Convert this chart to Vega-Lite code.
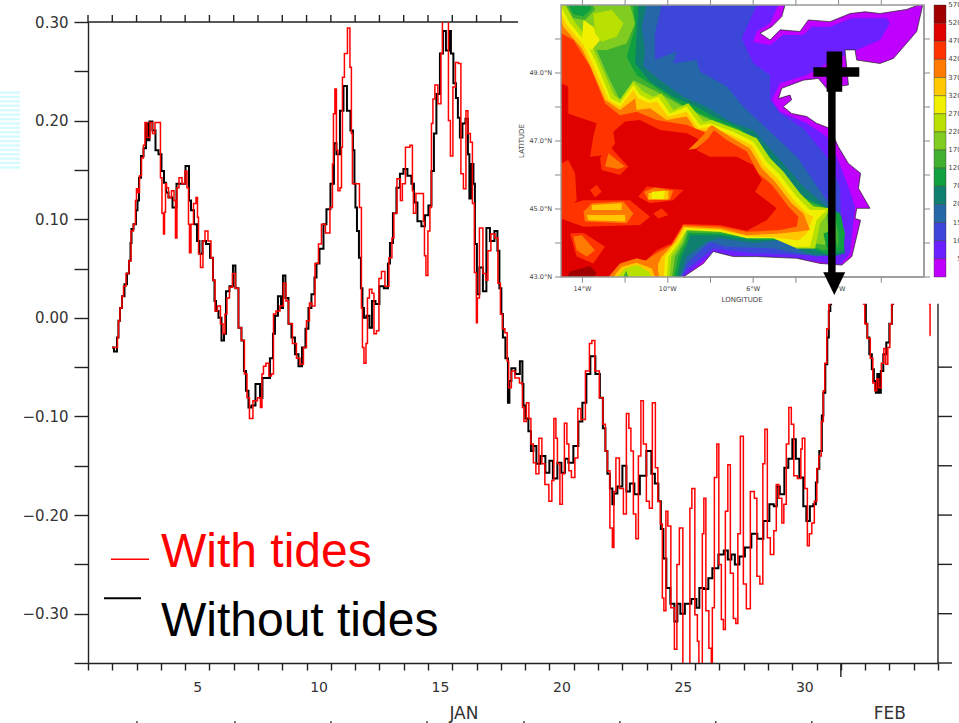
{"$schema":"https://vega.github.io/schema/vega-lite/v6.json","width":850,"height":641,"autosize":{"type":"none"},"padding":{"left":88,"top":22,"right":21,"bottom":60},"background":"white","config":{"view":{"stroke":null}},
"datasets":{
"withoutTides":[{"hour":23.7,"sla":-0.03},{"hour":27.7,"sla":-0.034},{"hour":29.6,"sla":-0.02},{"hour":30.6,"sla":-0.003},{"hour":32.6,"sla":0.01},{"hour":34.6,"sla":0.022},{"hour":37.5,"sla":0.034},{"hour":39.5,"sla":0.045},{"hour":41.5,"sla":0.058},{"hour":42.5,"sla":0.076},{"hour":43.5,"sla":0.09},{"hour":46.4,"sla":0.095},{"hour":48.4,"sla":0.109},{"hour":49.4,"sla":0.119},{"hour":51.4,"sla":0.142},{"hour":53.4,"sla":0.164},{"hour":56.3,"sla":0.172},{"hour":58.3,"sla":0.197},{"hour":59.3,"sla":0.18},{"hour":62.2,"sla":0.199},{"hour":65.2,"sla":0.19},{"hour":68.2,"sla":0.17},{"hour":71.1,"sla":0.166},{"hour":74.1,"sla":0.149},{"hour":76.1,"sla":0.137},{"hour":78.1,"sla":0.127},{"hour":81,"sla":0.122},{"hour":86,"sla":0.112},{"hour":88.9,"sla":0.136},{"hour":93.9,"sla":0.136},{"hour":98.8,"sla":0.154},{"hour":100.8,"sla":0.119},{"hour":102.8,"sla":0.109},{"hour":106.7,"sla":0.095},{"hour":108.7,"sla":0.078},{"hour":111.6,"sla":0.065},{"hour":114.6,"sla":0.078},{"hour":118.6,"sla":0.075},{"hour":122.5,"sla":0.061},{"hour":124.5,"sla":0.038},{"hour":125.5,"sla":0.017},{"hour":127.5,"sla":0.007},{"hour":130.4,"sla":0},{"hour":133.4,"sla":-0.023},{"hour":135.4,"sla":-0.016},{"hour":137.3,"sla":0.027},{"hour":142.3,"sla":0.032},{"hour":144.2,"sla":0.053},{"hour":147.2,"sla":0.03},{"hour":150.2,"sla":-0.01},{"hour":153.1,"sla":-0.023},{"hour":155.1,"sla":-0.054},{"hour":157.1,"sla":-0.074},{"hour":160.1,"sla":-0.091},{"hour":163,"sla":-0.089},{"hour":168,"sla":-0.067},{"hour":171.9,"sla":-0.081},{"hour":172.9,"sla":-0.061},{"hour":177.8,"sla":-0.061},{"hour":181.8,"sla":-0.041},{"hour":183.8,"sla":-0.016},{"hour":185.7,"sla":0.002},{"hour":189.7,"sla":0.022},{"hour":191.7,"sla":0.01},{"hour":193.6,"sla":0.043},{"hour":196.6,"sla":0.02},{"hour":199.6,"sla":-0.006},{"hour":202.5,"sla":-0.02},{"hour":206.5,"sla":-0.037},{"hour":209.5,"sla":-0.049},{"hour":213.4,"sla":-0.03},{"hour":216.4,"sla":-0.011},{"hour":219.3,"sla":0.01},{"hour":222.3,"sla":0.024},{"hour":225.3,"sla":0.041},{"hour":226.3,"sla":0.055},{"hour":231.2,"sla":0.07},{"hour":234.2,"sla":0.095},{"hour":237.1,"sla":0.11},{"hour":242.1,"sla":0.136},{"hour":244,"sla":0.177},{"hour":247,"sla":0.166},{"hour":251,"sla":0.21},{"hour":253.9,"sla":0.235},{"hour":257.9,"sla":0.21},{"hour":260.8,"sla":0.19},{"hour":262.8,"sla":0.17},{"hour":263.8,"sla":0.136},{"hour":264.8,"sla":0.112},{"hour":266.8,"sla":0.088},{"hour":268.7,"sla":0.061},{"hour":270.7,"sla":0.03},{"hour":271.7,"sla":0.01},{"hour":273.7,"sla":0},{"hour":276.6,"sla":0.002},{"hour":279.6,"sla":-0.01},{"hour":281.6,"sla":0.017},{"hour":286.5,"sla":0.014},{"hour":289.5,"sla":0.032},{"hour":295.4,"sla":0.03},{"hour":297.4,"sla":0.055},{"hour":299.4,"sla":0.076},{"hour":303.3,"sla":0.106},{"hour":306.3,"sla":0.132},{"hour":310.2,"sla":0.146},{"hour":313.2,"sla":0.151},{"hour":318.1,"sla":0.144},{"hour":321.1,"sla":0.136},{"hour":323.1,"sla":0.117},{"hour":328,"sla":0.098},{"hour":331,"sla":0.093},{"hour":334.9,"sla":0.104},{"hour":337.9,"sla":0.114},{"hour":340.9,"sla":0.149},{"hour":342.8,"sla":0.187},{"hour":345.8,"sla":0.227},{"hour":349.8,"sla":0.268},{"hour":351.7,"sla":0.291},{"hour":355.7,"sla":0.271},{"hour":357.7,"sla":0.291},{"hour":359.6,"sla":0.268},{"hour":362.6,"sla":0.238},{"hour":364.6,"sla":0.223},{"hour":366.5,"sla":0.203},{"hour":368.5,"sla":0.183},{"hour":371.5,"sla":0.197},{"hour":374.5,"sla":0.202},{"hour":376.4,"sla":0.166},{"hour":377.4,"sla":0.121},{"hour":380.4,"sla":0.156},{"hour":381.4,"sla":0.136},{"hour":383.3,"sla":0.075},{"hour":385.3,"sla":0.024},{"hour":388.3,"sla":0.051},{"hour":392.2,"sla":0.027},{"hour":395.2,"sla":0.091},{"hour":399.2,"sla":0.078},{"hour":404.1,"sla":0.088},{"hour":405.1,"sla":0.068},{"hour":408,"sla":0.03},{"hour":409,"sla":0.004},{"hour":411,"sla":-0.02},{"hour":414,"sla":-0.041},{"hour":416,"sla":-0.086},{"hour":416.9,"sla":-0.064},{"hour":419.9,"sla":-0.051},{"hour":424.8,"sla":-0.057},{"hour":428.8,"sla":-0.044},{"hour":429.8,"sla":-0.067},{"hour":430.8,"sla":-0.089},{"hour":433.7,"sla":-0.102},{"hour":436.7,"sla":-0.115},{"hour":438.7,"sla":-0.135},{"hour":441.6,"sla":-0.13},{"hour":444.6,"sla":-0.148},{"hour":449.5,"sla":-0.14},{"hour":454.5,"sla":-0.157},{"hour":457.4,"sla":-0.145},{"hour":461.4,"sla":-0.163},{"hour":466.3,"sla":-0.147},{"hour":469.3,"sla":-0.157},{"hour":473.3,"sla":-0.143},{"hour":476.2,"sla":-0.147},{"hour":483.1,"sla":-0.13},{"hour":486.1,"sla":-0.105},{"hour":491,"sla":-0.086},{"hour":494,"sla":-0.057},{"hour":498.9,"sla":-0.039},{"hour":503.9,"sla":-0.057},{"hour":507.8,"sla":-0.081},{"hour":509.8,"sla":-0.112},{"hour":512.8,"sla":-0.135},{"hour":513.8,"sla":-0.158},{"hour":517.7,"sla":-0.173},{"hour":518.7,"sla":-0.189},{"hour":520.7,"sla":-0.178},{"hour":525.6,"sla":-0.171},{"hour":530.6,"sla":-0.15},{"hour":533.5,"sla":-0.176},{"hour":537.5,"sla":-0.168},{"hour":542.4,"sla":-0.179},{"hour":548.3,"sla":-0.16},{"hour":555.3,"sla":-0.135},{"hour":558.2,"sla":-0.158},{"hour":562.2,"sla":-0.168},{"hour":565.1,"sla":-0.186},{"hour":567.1,"sla":-0.214},{"hour":570.1,"sla":-0.244},{"hour":573,"sla":-0.274},{"hour":578,"sla":-0.29},{"hour":581,"sla":-0.308},{"hour":583.9,"sla":-0.29},{"hour":586.9,"sla":-0.3},{"hour":592.8,"sla":-0.29},{"hour":599.7,"sla":-0.285},{"hour":602.7,"sla":-0.294},{"hour":605.6,"sla":-0.274},{"hour":611.6,"sla":-0.275},{"hour":614.5,"sla":-0.264},{"hour":619.5,"sla":-0.254},{"hour":626.4,"sla":-0.24},{"hour":630.3,"sla":-0.236},{"hour":634.3,"sla":-0.245},{"hour":637.3,"sla":-0.24},{"hour":641.2,"sla":-0.25},{"hour":646.2,"sla":-0.242},{"hour":652.1,"sla":-0.233},{"hour":659,"sla":-0.219},{"hour":663.9,"sla":-0.224},{"hour":670.9,"sla":-0.206},{"hour":675.8,"sla":-0.189},{"hour":679.7,"sla":-0.191},{"hour":681.7,"sla":-0.171},{"hour":685.7,"sla":-0.179},{"hour":690.6,"sla":-0.152},{"hour":693.6,"sla":-0.143},{"hour":698.5,"sla":-0.123},{"hour":700.5,"sla":-0.143},{"hour":705.4,"sla":-0.162},{"hour":708.4,"sla":-0.191},{"hour":711.4,"sla":-0.206},{"hour":715.3,"sla":-0.191},{"hour":718.3,"sla":-0.189},{"hour":720.3,"sla":-0.167},{"hour":721.2,"sla":-0.153},{"hour":724.2,"sla":-0.135},{"hour":726.2,"sla":-0.099},{"hour":727.2,"sla":-0.076},{"hour":730.1,"sla":-0.047},{"hour":731.1,"sla":-0.02},{"hour":733.1,"sla":0.007},{"hour":734.1,"sla":0.014},{"hour":734.6,"sla":0.05},{"hour":747.9,"sla":0.078},{"hour":760.8,"sla":0.073},{"hour":767.2,"sla":0.05},{"hour":767.7,"sla":0.014},{"hour":769.7,"sla":-0.006},{"hour":770.6,"sla":-0.02},{"hour":773.6,"sla":-0.037},{"hour":775.6,"sla":-0.052},{"hour":777.6,"sla":-0.064},{"hour":779.5,"sla":-0.076},{"hour":780.5,"sla":-0.057},{"hour":782.5,"sla":-0.076},{"hour":784.5,"sla":-0.054},{"hour":787.4,"sla":-0.037},{"hour":790.4,"sla":-0.025},{"hour":793.4,"sla":-0.006},{"hour":795.4,"sla":0.014},{"hour":795.9,"sla":0.05},{"hour":802.3,"sla":0.048},{"hour":812.1,"sla":0.068},{"hour":822,"sla":0.048}],
"withTides":[{"hour":23.7,"sla":-0.03},{"hour":28.7,"sla":-0.03},{"hour":29.6,"sla":-0.02},{"hour":30.6,"sla":-0.003},{"hour":32.6,"sla":0.01},{"hour":34.6,"sla":0.022},{"hour":35.6,"sla":0.032},{"hour":39.5,"sla":0.045},{"hour":41.5,"sla":0.058},{"hour":43.5,"sla":0.088},{"hour":46.4,"sla":0.095},{"hour":47.4,"sla":0.119},{"hour":48.4,"sla":0.131},{"hour":50.4,"sla":0.127},{"hour":51.4,"sla":0.144},{"hour":54.3,"sla":0.162},{"hour":55.3,"sla":0.175},{"hour":57.3,"sla":0.198},{"hour":59.3,"sla":0.183},{"hour":63.2,"sla":0.198},{"hour":64.2,"sla":0.187},{"hour":68.2,"sla":0.198},{"hour":71.1,"sla":0.198},{"hour":72.1,"sla":0.142},{"hour":74.1,"sla":0.106},{"hour":75.1,"sla":0.085},{"hour":76.1,"sla":0.107},{"hour":77.1,"sla":0.136},{"hour":78.1,"sla":0.132},{"hour":81,"sla":0.122},{"hour":84,"sla":0.129},{"hour":86,"sla":0.119},{"hour":86.9,"sla":0.081},{"hour":88.9,"sla":0.132},{"hour":90.9,"sla":0.142},{"hour":94.8,"sla":0.136},{"hour":96.8,"sla":0.149},{"hour":98.8,"sla":0.132},{"hour":99.8,"sla":0.095},{"hour":100.8,"sla":0.066},{"hour":102.8,"sla":0.095},{"hour":105.7,"sla":0.116},{"hour":107.7,"sla":0.122},{"hour":108.7,"sla":0.102},{"hour":109.7,"sla":0.065},{"hour":112.6,"sla":0.051},{"hour":114.6,"sla":0.078},{"hour":116.6,"sla":0.088},{"hour":120.5,"sla":0.078},{"hour":122.5,"sla":0.061},{"hour":124.5,"sla":0.038},{"hour":126.5,"sla":0.007},{"hour":129.4,"sla":0.012},{"hour":132.4,"sla":-0.006},{"hour":134.4,"sla":-0.016},{"hour":136.3,"sla":0.004},{"hour":138.3,"sla":0.02},{"hour":141.3,"sla":0.031},{"hour":144.2,"sla":0.045},{"hour":147.2,"sla":0.03},{"hour":150.2,"sla":-0.01},{"hour":153.1,"sla":-0.023},{"hour":156.1,"sla":-0.057},{"hour":158.1,"sla":-0.081},{"hour":161,"sla":-0.102},{"hour":165,"sla":-0.084},{"hour":169.9,"sla":-0.081},{"hour":170.9,"sla":-0.091},{"hour":172.9,"sla":-0.057},{"hour":173.9,"sla":-0.049},{"hour":177.8,"sla":-0.046},{"hour":179.8,"sla":-0.059},{"hour":182.8,"sla":-0.057},{"hour":183.8,"sla":0.004},{"hour":187.7,"sla":0.007},{"hour":191.7,"sla":0.012},{"hour":194.6,"sla":0.035},{"hour":196.6,"sla":0.017},{"hour":199.6,"sla":-0.006},{"hour":204.5,"sla":-0.026},{"hour":207.5,"sla":-0.041},{"hour":211.4,"sla":-0.047},{"hour":214.4,"sla":-0.03},{"hour":217.4,"sla":-0.003},{"hour":220.3,"sla":0.015},{"hour":222.3,"sla":0.012},{"hour":226.3,"sla":0.055},{"hour":229.2,"sla":0.075},{"hour":232.2,"sla":0.095},{"hour":237.1,"sla":0.086},{"hour":241.1,"sla":0.112},{"hour":242.1,"sla":0.156},{"hour":243,"sla":0.207},{"hour":245,"sla":0.232},{"hour":246,"sla":0.17},{"hour":248,"sla":0.129},{"hour":250,"sla":0.132},{"hour":251,"sla":0.173},{"hour":251.9,"sla":0.244},{"hour":254.9,"sla":0.268},{"hour":257.9,"sla":0.294},{"hour":259.8,"sla":0.254},{"hour":260.8,"sla":0.187},{"hour":261.8,"sla":0.136},{"hour":266.8,"sla":0.136},{"hour":269.7,"sla":0.112},{"hour":270.7,"sla":0.01},{"hour":271.7,"sla":-0.03},{"hour":273.7,"sla":-0.046},{"hour":275.7,"sla":-0.026},{"hour":276.6,"sla":0.02},{"hour":279.6,"sla":0.029},{"hour":281.6,"sla":0.025},{"hour":283.6,"sla":-0.016},{"hour":286.5,"sla":-0.013},{"hour":288.5,"sla":0.04},{"hour":291.5,"sla":0.047},{"hour":295.4,"sla":0.032},{"hour":299.4,"sla":0.061},{"hour":301.3,"sla":0.081},{"hour":303.3,"sla":0.106},{"hour":307.3,"sla":0.141},{"hour":310.2,"sla":0.119},{"hour":311.2,"sla":0.136},{"hour":316.2,"sla":0.173},{"hour":320.1,"sla":0.175},{"hour":321.1,"sla":0.129},{"hour":322.1,"sla":0.106},{"hour":326,"sla":0.126},{"hour":331,"sla":0.126},{"hour":332,"sla":0.098},{"hour":333,"sla":0.063},{"hour":334.9,"sla":0.043},{"hour":336.9,"sla":0.088},{"hour":338.9,"sla":0.112},{"hour":339.9,"sla":0.197},{"hour":341.8,"sla":0.222},{"hour":343.8,"sla":0.236},{"hour":347.8,"sla":0.217},{"hour":349.8,"sla":0.268},{"hour":350.7,"sla":0.307},{"hour":355.7,"sla":0.307},{"hour":356.7,"sla":0.2},{"hour":359.6,"sla":0.164},{"hour":361.6,"sla":0.234},{"hour":364.6,"sla":0.259},{"hour":367.5,"sla":0.258},{"hour":369.5,"sla":0.146},{"hour":372.5,"sla":0.131},{"hour":374.5,"sla":0.21},{"hour":376.4,"sla":0.187},{"hour":379.4,"sla":0.178},{"hour":380.4,"sla":0.116},{"hour":383.3,"sla":0.046},{"hour":384.3,"sla":-0.005},{"hour":385.3,"sla":0.02},{"hour":388.3,"sla":0.091},{"hour":392.2,"sla":0.045},{"hour":394.2,"sla":0.038},{"hour":396.2,"sla":0.068},{"hour":400.1,"sla":0.085},{"hour":404.1,"sla":0.081},{"hour":406.1,"sla":0.035},{"hour":409,"sla":0.004},{"hour":410,"sla":-0.011},{"hour":414,"sla":-0.015},{"hour":414.5,"sla":-0.044},{"hour":416.9,"sla":-0.071},{"hour":419.9,"sla":-0.054},{"hour":423.9,"sla":-0.061},{"hour":428.8,"sla":-0.066},{"hour":429.8,"sla":-0.091},{"hour":431.8,"sla":-0.105},{"hour":434.7,"sla":-0.086},{"hour":436.7,"sla":-0.102},{"hour":438.7,"sla":-0.128},{"hour":441.6,"sla":-0.147},{"hour":443.6,"sla":-0.158},{"hour":447.6,"sla":-0.122},{"hour":449.5,"sla":-0.148},{"hour":453.5,"sla":-0.169},{"hour":457.4,"sla":-0.186},{"hour":459.4,"sla":-0.165},{"hour":461.4,"sla":-0.102},{"hour":463.4,"sla":-0.122},{"hour":464.4,"sla":-0.148},{"hour":468.3,"sla":-0.189},{"hour":469.3,"sla":-0.158},{"hour":472.3,"sla":-0.107},{"hour":474.2,"sla":-0.128},{"hour":476.2,"sla":-0.155},{"hour":479.2,"sla":-0.162},{"hour":483.1,"sla":-0.142},{"hour":485.1,"sla":-0.092},{"hour":489.1,"sla":-0.103},{"hour":494,"sla":-0.054},{"hour":497,"sla":-0.026},{"hour":498.9,"sla":-0.023},{"hour":502.9,"sla":-0.054},{"hour":507.8,"sla":-0.081},{"hour":509.8,"sla":-0.108},{"hour":512.8,"sla":-0.135},{"hour":513.8,"sla":-0.155},{"hour":517.7,"sla":-0.213},{"hour":518.7,"sla":-0.233},{"hour":520.7,"sla":-0.176},{"hour":522.7,"sla":-0.142},{"hour":527.6,"sla":-0.173},{"hour":530.6,"sla":-0.199},{"hour":533.5,"sla":-0.097},{"hour":535.5,"sla":-0.112},{"hour":537.5,"sla":-0.135},{"hour":540.4,"sla":-0.199},{"hour":542.4,"sla":-0.224},{"hour":545.4,"sla":-0.14},{"hour":547.4,"sla":-0.084},{"hour":550.3,"sla":-0.128},{"hour":553.3,"sla":-0.186},{"hour":556.2,"sla":-0.193},{"hour":559.2,"sla":-0.086},{"hour":562.2,"sla":-0.152},{"hour":564.1,"sla":-0.186},{"hour":567.1,"sla":-0.209},{"hour":568.1,"sla":-0.284},{"hour":570.1,"sla":-0.297},{"hour":572.1,"sla":-0.196},{"hour":574,"sla":-0.211},{"hour":578,"sla":-0.294},{"hour":581,"sla":-0.336},{"hour":582.9,"sla":-0.25},{"hour":585.9,"sla":-0.213},{"hour":589.8,"sla":-0.379},{"hour":593.8,"sla":-0.379},{"hour":595.8,"sla":-0.193},{"hour":597.7,"sla":-0.173},{"hour":601.7,"sla":-0.301},{"hour":602.7,"sla":-0.328},{"hour":604.7,"sla":-0.379},{"hour":606.6,"sla":-0.379},{"hour":607.6,"sla":-0.219},{"hour":609.6,"sla":-0.183},{"hour":611.6,"sla":-0.297},{"hour":615.5,"sla":-0.335},{"hour":616.5,"sla":-0.379},{"hour":617.5,"sla":-0.294},{"hour":620.5,"sla":-0.162},{"hour":622.4,"sla":-0.128},{"hour":624.4,"sla":-0.25},{"hour":627.4,"sla":-0.306},{"hour":628.4,"sla":-0.316},{"hour":631.3,"sla":-0.196},{"hour":633.3,"sla":-0.149},{"hour":636.3,"sla":-0.259},{"hour":639.2,"sla":-0.305},{"hour":641.2,"sla":-0.31},{"hour":643.2,"sla":-0.219},{"hour":646.2,"sla":-0.12},{"hour":649.1,"sla":-0.27},{"hour":652.1,"sla":-0.295},{"hour":657,"sla":-0.176},{"hour":660,"sla":-0.183},{"hour":662,"sla":-0.262},{"hour":665.9,"sla":-0.27},{"hour":667.9,"sla":-0.148},{"hour":669.9,"sla":-0.113},{"hour":672.8,"sla":-0.223},{"hour":675.8,"sla":-0.24},{"hour":679.7,"sla":-0.216},{"hour":680.7,"sla":-0.169},{"hour":684.7,"sla":-0.183},{"hour":686.7,"sla":-0.208},{"hour":688.6,"sla":-0.189},{"hour":691.6,"sla":-0.128},{"hour":693.6,"sla":-0.091},{"hour":696.5,"sla":-0.108},{"hour":698.5,"sla":-0.16},{"hour":703.5,"sla":-0.163},{"hour":705.4,"sla":-0.133},{"hour":706.4,"sla":-0.122},{"hour":710.4,"sla":-0.173},{"hour":711.4,"sla":-0.231},{"hour":714.3,"sla":-0.219},{"hour":716.3,"sla":-0.208},{"hour":719.3,"sla":-0.186},{"hour":721.2,"sla":-0.153},{"hour":723.2,"sla":-0.14},{"hour":726.2,"sla":-0.105},{"hour":727.2,"sla":-0.074},{"hour":729.1,"sla":-0.046},{"hour":731.1,"sla":-0.011},{"hour":733.1,"sla":0.014},{"hour":733.6,"sla":0.05},{"hour":747.9,"sla":0.078},{"hour":760.8,"sla":0.078},{"hour":766.2,"sla":0.05},{"hour":766.7,"sla":0.014},{"hour":768.7,"sla":-0.006},{"hour":771.6,"sla":-0.021},{"hour":774.6,"sla":-0.041},{"hour":776.6,"sla":-0.066},{"hour":778.5,"sla":-0.074},{"hour":780.5,"sla":-0.062},{"hour":782.5,"sla":-0.071},{"hour":785.5,"sla":-0.046},{"hour":787.4,"sla":-0.031},{"hour":789.4,"sla":-0.047},{"hour":791.4,"sla":-0.03},{"hour":793.4,"sla":-0.006},{"hour":795.4,"sla":0.014},{"hour":795.9,"sla":0.05},{"hour":807.2,"sla":0.078},{"hour":820,"sla":0.068},{"hour":827.9,"sla":0.05},{"hour":831.5,"sla":0.05},{"hour":831.9,"sla":0.014},{"hour":832.4,"sla":-0.018}]
},
"layer":[{"layer":[{"mark":{"type":"rule","stroke":"#d5fbff","strokeWidth":2.4},"data":{"values":[{"hour":-87,"hour2":-67,"sla":0.2284},{"hour":-87,"hour2":-67,"sla":0.2239},{"hour":-87,"hour2":-67,"sla":0.2195},{"hour":-87,"hour2":-67,"sla":0.215},{"hour":-87,"hour2":-67,"sla":0.2105},{"hour":-87,"hour2":-67,"sla":0.2061},{"hour":-87,"hour2":-67,"sla":0.2016},{"hour":-87,"hour2":-67,"sla":0.1971},{"hour":-87,"hour2":-67,"sla":0.1927},{"hour":-87,"hour2":-67,"sla":0.1882},{"hour":-87,"hour2":-67,"sla":0.1837},{"hour":-87,"hour2":-67,"sla":0.1793},{"hour":-87,"hour2":-67,"sla":0.1748},{"hour":-87,"hour2":-67,"sla":0.1703},{"hour":-87,"hour2":-67,"sla":0.1659},{"hour":-87,"hour2":-67,"sla":0.1614},{"hour":-87,"hour2":-67,"sla":0.157},{"hour":-87,"hour2":-67,"sla":0.1525}]},"encoding":{"x2":{"field":"hour2"}}},
{"mark":{"type":"rule","stroke":"#222","strokeWidth":1.4},"data":{"values":[{"hour":0,"hour2":840,"sla":0.3,"sla2":0.3},{"hour":840,"hour2":840,"sla":-0.35,"sla2":0.3},{"hour":840,"hour2":853.8,"sla":-0.35,"sla2":-0.35},{"hour":840,"hour2":853.8,"sla":-0.3,"sla2":-0.3},{"hour":840,"hour2":853.8,"sla":-0.25,"sla2":-0.25},{"hour":840,"hour2":853.8,"sla":-0.2,"sla2":-0.2},{"hour":840,"hour2":853.8,"sla":-0.15,"sla2":-0.15},{"hour":840,"hour2":853.8,"sla":-0.1,"sla2":-0.1},{"hour":840,"hour2":853.8,"sla":-0.05,"sla2":-0.05},{"hour":744,"hour2":744,"sla":-0.35,"sla2":-0.3642},{"hour":0,"hour2":0,"sla":0.3,"sla2":0.3071},{"hour":24,"hour2":24,"sla":0.3,"sla2":0.3071},{"hour":48,"hour2":48,"sla":0.3,"sla2":0.3071},{"hour":72,"hour2":72,"sla":0.3,"sla2":0.3071},{"hour":96,"hour2":96,"sla":0.3,"sla2":0.3071},{"hour":120,"hour2":120,"sla":0.3,"sla2":0.3071},{"hour":144,"hour2":144,"sla":0.3,"sla2":0.3071},{"hour":168,"hour2":168,"sla":0.3,"sla2":0.3071},{"hour":192,"hour2":192,"sla":0.3,"sla2":0.3071},{"hour":216,"hour2":216,"sla":0.3,"sla2":0.3071},{"hour":240,"hour2":240,"sla":0.3,"sla2":0.3071},{"hour":264,"hour2":264,"sla":0.3,"sla2":0.3071},{"hour":288,"hour2":288,"sla":0.3,"sla2":0.3071},{"hour":312,"hour2":312,"sla":0.3,"sla2":0.3071},{"hour":336,"hour2":336,"sla":0.3,"sla2":0.3071},{"hour":360,"hour2":360,"sla":0.3,"sla2":0.3071},{"hour":384,"hour2":384,"sla":0.3,"sla2":0.3071},{"hour":408,"hour2":408,"sla":0.3,"sla2":0.3071},{"hour":48.4,"hour2":48.4,"sla":-0.409,"sla2":-0.42},{"hour":145.2,"hour2":145.2,"sla":-0.409,"sla2":-0.42},{"hour":240.1,"hour2":240.1,"sla":-0.409,"sla2":-0.42},{"hour":335,"hour2":335,"sla":-0.409,"sla2":-0.42},{"hour":430.8,"hour2":430.8,"sla":-0.409,"sla2":-0.42},{"hour":525.6,"hour2":525.6,"sla":-0.409,"sla2":-0.42},{"hour":620.4,"hour2":620.4,"sla":-0.409,"sla2":-0.42},{"hour":715.3,"hour2":715.3,"sla":-0.409,"sla2":-0.42}]},"encoding":{"x2":{"field":"hour2"},"y2":{"field":"sla2"}}},
{"mark":{"type":"line","stroke":"#000","strokeWidth":2,"clip":true,"interpolate":"step"},"data":{"name":"withoutTides"}},
{"mark":{"type":"line","stroke":"#ff0000","strokeWidth":1.5,"clip":true,"interpolate":"step"},"data":{"name":"withTides"}},
{"mark":{"type":"rule","stroke":"#ff0000","strokeWidth":1.5},"data":{"values":[{"hour":22.7,"hour2":60.3,"sla":-0.2447}]},"encoding":{"x2":{"field":"hour2"}}},
{"mark":{"type":"rule","stroke":"#000","strokeWidth":2},"data":{"values":[{"hour":15.8,"hour2":52.4,"sla":-0.2843}]},"encoding":{"x2":{"field":"hour2"}}},
{"mark":{"type":"text","font":"Liberation Sans","fontSize":48,"align":"left","baseline":"alphabetic","fill":"#ff0000"},"data":{"values":[{"hour":72.1,"sla":-0.2528,"label":"With tides"}]},"encoding":{"text":{"field":"label"}}},
{"mark":{"type":"text","font":"Liberation Sans","fontSize":48,"align":"left","baseline":"alphabetic","fill":"#000"},"data":{"values":[{"hour":72.1,"sla":-0.3228,"label":"Without tides"}]},"encoding":{"text":{"field":"label"}}},
{"mark":{"type":"text","font":"DejaVu Sans","fontSize":17,"align":"center","baseline":"alphabetic","fill":"#333"},"data":{"values":[{"hour":371.5,"sla":-0.407,"label":"JAN"},{"hour":792.4,"sla":-0.407,"label":"FEB"}]},"encoding":{"text":{"field":"label"}}},
{"mark":{"type":"rect","fill":"white","stroke":null},"data":{"values":[{"hour":425,"hour2":900,"sla":0.0142,"sla2":0.34}]},"encoding":{"x2":{"field":"hour2"},"y2":{"field":"sla2"}}}],
"encoding":{"x":{"field":"hour","type":"quantitative","scale":{"domain":[0,840],"nice":false,"zero":false},"axis":{"orient":"bottom","title":null,"grid":false,"values":[0,24,48,72,96,120,144,168,192,216,240,264,288,312,336,360,384,408,432,456,480,504,528,552,576,600,624,648,672,696,720,744,768,792,816,840],"labelExpr":"(datum.value/24+1)%5==0 && datum.value/24+1<=30 ? ''+(datum.value/24+1) : ''","labelOverlap":false,"labelFlush":false,"labelOffset":12,"labelPadding":10,"labelAngle":0,"labelFont":"DejaVu Sans","labelFontSize":14,"labelColor":"#333","tickSize":7,"tickColor":"#222","tickWidth":1.4,"domainColor":"#222","domainWidth":1.4}},
"y":{"field":"sla","type":"quantitative","scale":{"domain":[-0.35,0.3],"nice":false,"zero":false},"axis":{"orient":"left","title":null,"grid":false,"values":[-0.35,-0.3,-0.25,-0.2,-0.15,-0.1,-0.05,0,0.05,0.1,0.15,0.2,0.25,0.3],"labelExpr":"abs(round(datum.value*100))%10==0 ? format(datum.value,'.2f') : ''","labelOverlap":false,"labelFlush":false,"labelPadding":6,"labelFont":"DejaVu Sans","labelFontSize":15,"labelColor":"#333","tickSize":14,"tickColor":"#222","tickWidth":1.4,"domainColor":"#222","domainWidth":1.4}}}},
{"layer":[
{"mark":{"type":"line","stroke":null,"fillOpacity":1},"data":{"values":[
{"p":"a","band":"0","lon":-15,"lat":51},{"p":"a","band":"0","lon":2,"lat":51},{"p":"a","band":"0","lon":2,"lat":43},{"p":"a","band":"0","lon":-15,"lat":43},
{"p":"b1","band":"50","lon":-15,"lat":51},{"p":"b1","band":"50","lon":-4.82,"lat":51},{"p":"b1","band":"50","lon":-5.21,"lat":50.46},{"p":"b1","band":"50","lon":-5.83,"lat":50.22},{"p":"b1","band":"50","lon":-5.99,"lat":49.92},{"p":"b1","band":"50","lon":-5.21,"lat":49.82},{"p":"b1","band":"50","lon":-4.59,"lat":50.12},{"p":"b1","band":"50","lon":-3.65,"lat":50.12},{"p":"b1","band":"50","lon":-3.26,"lat":50.36},{"p":"b1","band":"50","lon":-2.4,"lat":50.36},{"p":"b1","band":"50","lon":-1.39,"lat":50.61},{"p":"b1","band":"50","lon":0.25,"lat":50.61},{"p":"b1","band":"50","lon":0.41,"lat":50.46},{"p":"b1","band":"50","lon":-0.06,"lat":49.97},{"p":"b1","band":"50","lon":-1.15,"lat":49.68},{"p":"b1","band":"50","lon":-2.56,"lat":49.28},{"p":"b1","band":"50","lon":-3.49,"lat":48.94},{"p":"b1","band":"50","lon":-4.74,"lat":48.7},{"p":"b1","band":"50","lon":-5.13,"lat":48.21},{"p":"b1","band":"50","lon":-4.74,"lat":47.86},{"p":"b1","band":"50","lon":-3.49,"lat":47.52},{"p":"b1","band":"50","lon":-2.56,"lat":47.13},{"p":"b1","band":"50","lon":-2.09,"lat":46.54},{"p":"b1","band":"50","lon":-1.54,"lat":45.66},{"p":"b1","band":"50","lon":-1.23,"lat":45.07},{"p":"b1","band":"50","lon":-1.46,"lat":43.7},{"p":"b1","band":"50","lon":-1.93,"lat":43.35},{"p":"b1","band":"50","lon":-3.49,"lat":43.5},{"p":"b1","band":"50","lon":-5.99,"lat":43.55},{"p":"b1","band":"50","lon":-7.87,"lat":43.7},{"p":"b1","band":"50","lon":-9.27,"lat":43},{"p":"b1","band":"50","lon":-15,"lat":43},
{"p":"b2","band":"100","lon":-15,"lat":51},{"p":"b2","band":"100","lon":-5.83,"lat":51},{"p":"b2","band":"100","lon":-6.54,"lat":50.02},{"p":"b2","band":"100","lon":-5.99,"lat":49.28},{"p":"b2","band":"100","lon":-5.21,"lat":48.94},{"p":"b2","band":"100","lon":-5.21,"lat":48.21},{"p":"b2","band":"100","lon":-4.74,"lat":47.81},{"p":"b2","band":"100","lon":-3.65,"lat":47.37},{"p":"b2","band":"100","lon":-2.56,"lat":46.54},{"p":"b2","band":"100","lon":-1.93,"lat":45.66},{"p":"b2","band":"100","lon":-1.85,"lat":43.7},{"p":"b2","band":"100","lon":-3.81,"lat":43.65},{"p":"b2","band":"100","lon":-5.99,"lat":43.7},{"p":"b2","band":"100","lon":-7.87,"lat":43.84},{"p":"b2","band":"100","lon":-9.11,"lat":43.21},{"p":"b2","band":"100","lon":-9.35,"lat":43},{"p":"b2","band":"100","lon":-15,"lat":43},
{"p":"b3","band":"150","lon":-15,"lat":51},{"p":"b3","band":"150","lon":-10.29,"lat":51},{"p":"b3","band":"150","lon":-10.6,"lat":50.17},{"p":"b3","band":"150","lon":-10.6,"lat":49.38},{"p":"b3","band":"150","lon":-9.58,"lat":49.63},{"p":"b3","band":"150","lon":-9.74,"lat":49.28},{"p":"b3","band":"150","lon":-8.65,"lat":49.38},{"p":"b3","band":"150","lon":-8.49,"lat":49.04},{"p":"b3","band":"150","lon":-7.24,"lat":48.6},{"p":"b3","band":"150","lon":-6.46,"lat":48.01},{"p":"b3","band":"150","lon":-5.21,"lat":47.27},{"p":"b3","band":"150","lon":-3.96,"lat":46.54},{"p":"b3","band":"150","lon":-2.56,"lat":45.26},{"p":"b3","band":"150","lon":-2.01,"lat":44.87},{"p":"b3","band":"150","lon":-1.85,"lat":43.7},{"p":"b3","band":"150","lon":-3.03,"lat":43.6},{"p":"b3","band":"150","lon":-5.06,"lat":43.84},{"p":"b3","band":"150","lon":-7.24,"lat":43.89},{"p":"b3","band":"150","lon":-8.02,"lat":44.04},{"p":"b3","band":"150","lon":-9.11,"lat":43.4},{"p":"b3","band":"150","lon":-9.35,"lat":43},{"p":"b3","band":"150","lon":-15,"lat":43},
{"p":"b4","band":"200","lon":-15,"lat":51},{"p":"b4","band":"200","lon":-10.99,"lat":51},{"p":"b4","band":"200","lon":-11.22,"lat":50.36},{"p":"b4","band":"200","lon":-11.07,"lat":49.68},{"p":"b4","band":"200","lon":-11.14,"lat":49.19},{"p":"b4","band":"200","lon":-10.36,"lat":48.79},{"p":"b4","band":"200","lon":-9.27,"lat":48.3},{"p":"b4","band":"200","lon":-8.18,"lat":48.01},{"p":"b4","band":"200","lon":-7.09,"lat":47.57},{"p":"b4","band":"200","lon":-5.99,"lat":47.32},{"p":"b4","band":"200","lon":-4.74,"lat":46.44},{"p":"b4","band":"200","lon":-3.65,"lat":45.66},{"p":"b4","band":"200","lon":-2.56,"lat":45.07},{"p":"b4","band":"200","lon":-1.85,"lat":44.77},{"p":"b4","band":"200","lon":-1.7,"lat":43.7},{"p":"b4","band":"200","lon":-2.24,"lat":43.6},{"p":"b4","band":"200","lon":-3.49,"lat":43.7},{"p":"b4","band":"200","lon":-4.74,"lat":44.09},{"p":"b4","band":"200","lon":-5.99,"lat":43.99},{"p":"b4","band":"200","lon":-7.55,"lat":44.14},{"p":"b4","band":"200","lon":-8.18,"lat":44.04},{"p":"b4","band":"200","lon":-9.11,"lat":43.6},{"p":"b4","band":"200","lon":-9.43,"lat":43},{"p":"b4","band":"200","lon":-15,"lat":43},
{"p":"b5","band":"700","lon":-15,"lat":51},{"p":"b5","band":"700","lon":-11.38,"lat":51},{"p":"b5","band":"700","lon":-11.46,"lat":50.17},{"p":"b5","band":"700","lon":-11.53,"lat":49.28},{"p":"b5","band":"700","lon":-10.83,"lat":48.74},{"p":"b5","band":"700","lon":-9.74,"lat":48.3},{"p":"b5","band":"700","lon":-8.65,"lat":48.01},{"p":"b5","band":"700","lon":-7.87,"lat":47.72},{"p":"b5","band":"700","lon":-6.61,"lat":47.37},{"p":"b5","band":"700","lon":-5.68,"lat":46.93},{"p":"b5","band":"700","lon":-4.74,"lat":46.15},{"p":"b5","band":"700","lon":-3.65,"lat":45.36},{"p":"b5","band":"700","lon":-2.56,"lat":45.02},{"p":"b5","band":"700","lon":-1.93,"lat":44.87},{"p":"b5","band":"700","lon":-1.7,"lat":44.29},{"p":"b5","band":"700","lon":-1.78,"lat":43.79},{"p":"b5","band":"700","lon":-2.4,"lat":43.65},{"p":"b5","band":"700","lon":-3.49,"lat":43.89},{"p":"b5","band":"700","lon":-4.43,"lat":44.09},{"p":"b5","band":"700","lon":-5.99,"lat":44.09},{"p":"b5","band":"700","lon":-7.55,"lat":44.23},{"p":"b5","band":"700","lon":-8.96,"lat":44.23},{"p":"b5","band":"700","lon":-9.04,"lat":44.04},{"p":"b5","band":"700","lon":-9.35,"lat":43.6},{"p":"b5","band":"700","lon":-9.58,"lat":43},{"p":"b5","band":"700","lon":-15,"lat":43},
{"p":"b6","band":"1200","lon":-15,"lat":51},{"p":"b6","band":"1200","lon":-11.61,"lat":51},{"p":"b6","band":"1200","lon":-11.53,"lat":50.36},{"p":"b6","band":"1200","lon":-11.93,"lat":49.48},{"p":"b6","band":"1200","lon":-11.46,"lat":48.94},{"p":"b6","band":"1200","lon":-10.52,"lat":48.55},{"p":"b6","band":"1200","lon":-9.43,"lat":48.11},{"p":"b6","band":"1200","lon":-8.49,"lat":47.81},{"p":"b6","band":"1200","lon":-7.71,"lat":47.57},{"p":"b6","band":"1200","lon":-6.61,"lat":47.32},{"p":"b6","band":"1200","lon":-5.83,"lat":46.83},{"p":"b6","band":"1200","lon":-4.74,"lat":46.1},{"p":"b6","band":"1200","lon":-3.65,"lat":45.26},{"p":"b6","band":"1200","lon":-2.56,"lat":45.02},{"p":"b6","band":"1200","lon":-2.17,"lat":44.87},{"p":"b6","band":"1200","lon":-2.01,"lat":44.29},{"p":"b6","band":"1200","lon":-2.01,"lat":43.89},{"p":"b6","band":"1200","lon":-2.71,"lat":43.79},{"p":"b6","band":"1200","lon":-3.49,"lat":43.94},{"p":"b6","band":"1200","lon":-4.59,"lat":44.14},{"p":"b6","band":"1200","lon":-5.99,"lat":44.14},{"p":"b6","band":"1200","lon":-7.55,"lat":44.28},{"p":"b6","band":"1200","lon":-9.04,"lat":44.3},{"p":"b6","band":"1200","lon":-9.15,"lat":44.04},{"p":"b6","band":"1200","lon":-9.5,"lat":43.6},{"p":"b6","band":"1200","lon":-9.71,"lat":43},{"p":"b6","band":"1200","lon":-15,"lat":43},
{"p":"b7","band":"1700","lon":-15,"lat":51},{"p":"b7","band":"1700","lon":-11.77,"lat":51},{"p":"b7","band":"1700","lon":-11.53,"lat":50.46},{"p":"b7","band":"1700","lon":-11.93,"lat":49.87},{"p":"b7","band":"1700","lon":-12.86,"lat":49.68},{"p":"b7","band":"1700","lon":-13.33,"lat":49.68},{"p":"b7","band":"1700","lon":-12.86,"lat":48.99},{"p":"b7","band":"1700","lon":-12.36,"lat":48.35},{"p":"b7","band":"1700","lon":-12.24,"lat":48.22},{"p":"b7","band":"1700","lon":-11.61,"lat":48.79},{"p":"b7","band":"1700","lon":-10.52,"lat":48.45},{"p":"b7","band":"1700","lon":-9.43,"lat":48.06},{"p":"b7","band":"1700","lon":-8.49,"lat":47.76},{"p":"b7","band":"1700","lon":-7.71,"lat":47.54},{"p":"b7","band":"1700","lon":-6.61,"lat":47.3},{"p":"b7","band":"1700","lon":-5.83,"lat":46.78},{"p":"b7","band":"1700","lon":-4.82,"lat":46.07},{"p":"b7","band":"1700","lon":-3.73,"lat":45.24},{"p":"b7","band":"1700","lon":-3.02,"lat":45.02},{"p":"b7","band":"1700","lon":-2.56,"lat":44.87},{"p":"b7","band":"1700","lon":-2.48,"lat":44.38},{"p":"b7","band":"1700","lon":-2.63,"lat":43.94},{"p":"b7","band":"1700","lon":-3.18,"lat":43.99},{"p":"b7","band":"1700","lon":-4.12,"lat":44.17},{"p":"b7","band":"1700","lon":-5.99,"lat":44.17},{"p":"b7","band":"1700","lon":-7.55,"lat":44.32},{"p":"b7","band":"1700","lon":-9.08,"lat":44.36},{"p":"b7","band":"1700","lon":-9.24,"lat":44.04},{"p":"b7","band":"1700","lon":-9.66,"lat":43.6},{"p":"b7","band":"1700","lon":-9.8,"lat":43},{"p":"b7","band":"1700","lon":-15,"lat":43},
{"p":"b8","band":"2200","lon":-15,"lat":51},{"p":"b8","band":"2200","lon":-14.81,"lat":51},{"p":"b8","band":"2200","lon":-14.42,"lat":50.56},{"p":"b8","band":"2200","lon":-13.64,"lat":49.92},{"p":"b8","band":"2200","lon":-13.25,"lat":49.38},{"p":"b8","band":"2200","lon":-12.52,"lat":48.35},{"p":"b8","band":"2200","lon":-12.24,"lat":48.21},{"p":"b8","band":"2200","lon":-11.61,"lat":48.75},{"p":"b8","band":"2200","lon":-11.14,"lat":48.45},{"p":"b8","band":"2200","lon":-10.68,"lat":48.3},{"p":"b8","band":"2200","lon":-10.29,"lat":48.4},{"p":"b8","band":"2200","lon":-9.74,"lat":47.91},{"p":"b8","band":"2200","lon":-9.04,"lat":48.11},{"p":"b8","band":"2200","lon":-8.33,"lat":47.57},{"p":"b8","band":"2200","lon":-7.94,"lat":47.62},{"p":"b8","band":"2200","lon":-6.77,"lat":47.34},{"p":"b8","band":"2200","lon":-5.83,"lat":47.08},{"p":"b8","band":"2200","lon":-5.21,"lat":46.49},{"p":"b8","band":"2200","lon":-4.59,"lat":46.1},{"p":"b8","band":"2200","lon":-3.81,"lat":45.46},{"p":"b8","band":"2200","lon":-3.18,"lat":45.07},{"p":"b8","band":"2200","lon":-2.4,"lat":45.02},{"p":"b8","band":"2200","lon":-2.56,"lat":44.82},{"p":"b8","band":"2200","lon":-2.87,"lat":44.58},{"p":"b8","band":"2200","lon":-3.1,"lat":43.84},{"p":"b8","band":"2200","lon":-3.96,"lat":43.84},{"p":"b8","band":"2200","lon":-5.06,"lat":44.19},{"p":"b8","band":"2200","lon":-6.3,"lat":44.17},{"p":"b8","band":"2200","lon":-7.55,"lat":44.36},{"p":"b8","band":"2200","lon":-9.15,"lat":44.42},{"p":"b8","band":"2200","lon":-9.35,"lat":44.04},{"p":"b8","band":"2200","lon":-9.82,"lat":43.6},{"p":"b8","band":"2200","lon":-9.93,"lat":43},{"p":"b8","band":"2200","lon":-15,"lat":43},
{"p":"b9","band":"2700","lon":-15,"lat":50.95},{"p":"b9","band":"2700","lon":-14.58,"lat":50.46},{"p":"b9","band":"2700","lon":-13.8,"lat":49.87},{"p":"b9","band":"2700","lon":-13.41,"lat":49.38},{"p":"b9","band":"2700","lon":-12.67,"lat":48.25},{"p":"b9","band":"2700","lon":-12.24,"lat":48.11},{"p":"b9","band":"2700","lon":-11.61,"lat":48.65},{"p":"b9","band":"2700","lon":-11.3,"lat":48.35},{"p":"b9","band":"2700","lon":-10.83,"lat":48.21},{"p":"b9","band":"2700","lon":-10.44,"lat":48.3},{"p":"b9","band":"2700","lon":-9.89,"lat":47.81},{"p":"b9","band":"2700","lon":-9.11,"lat":48.01},{"p":"b9","band":"2700","lon":-8.49,"lat":47.47},{"p":"b9","band":"2700","lon":-8.02,"lat":47.52},{"p":"b9","band":"2700","lon":-6.93,"lat":47.27},{"p":"b9","band":"2700","lon":-5.99,"lat":46.98},{"p":"b9","band":"2700","lon":-5.37,"lat":46.39},{"p":"b9","band":"2700","lon":-4.74,"lat":46},{"p":"b9","band":"2700","lon":-3.96,"lat":45.36},{"p":"b9","band":"2700","lon":-3.34,"lat":44.97},{"p":"b9","band":"2700","lon":-2.56,"lat":44.97},{"p":"b9","band":"2700","lon":-3.03,"lat":44.68},{"p":"b9","band":"2700","lon":-3.34,"lat":43.89},{"p":"b9","band":"2700","lon":-4.12,"lat":43.89},{"p":"b9","band":"2700","lon":-5.06,"lat":44.14},{"p":"b9","band":"2700","lon":-6.3,"lat":44.14},{"p":"b9","band":"2700","lon":-7.55,"lat":44.33},{"p":"b9","band":"2700","lon":-9.11,"lat":44.38},{"p":"b9","band":"2700","lon":-9.46,"lat":44.04},{"p":"b9","band":"2700","lon":-9.97,"lat":43.6},{"p":"b9","band":"2700","lon":-10.05,"lat":43},{"p":"b9","band":"2700","lon":-15,"lat":43},
{"p":"c10","band":"3200","lon":-15,"lat":50.75},{"p":"c10","band":"3200","lon":-14.73,"lat":50.41},{"p":"c10","band":"3200","lon":-13.95,"lat":49.82},{"p":"c10","band":"3200","lon":-13.56,"lat":49.33},{"p":"c10","band":"3200","lon":-12.78,"lat":48.21},{"p":"c10","band":"3200","lon":-12.24,"lat":48.01},{"p":"c10","band":"3200","lon":-11.61,"lat":48.5},{"p":"c10","band":"3200","lon":-11.38,"lat":48.25},{"p":"c10","band":"3200","lon":-10.83,"lat":48.11},{"p":"c10","band":"3200","lon":-10.52,"lat":48.16},{"p":"c10","band":"3200","lon":-9.97,"lat":47.72},{"p":"c10","band":"3200","lon":-9.11,"lat":47.86},{"p":"c10","band":"3200","lon":-8.57,"lat":47.37},{"p":"c10","band":"3200","lon":-8.02,"lat":47.42},{"p":"c10","band":"3200","lon":-7.01,"lat":47.18},{"p":"c10","band":"3200","lon":-6.07,"lat":46.88},{"p":"c10","band":"3200","lon":-5.49,"lat":46.29},{"p":"c10","band":"3200","lon":-4.87,"lat":45.9},{"p":"c10","band":"3200","lon":-4.09,"lat":45.26},{"p":"c10","band":"3200","lon":-3.49,"lat":44.87},{"p":"c10","band":"3200","lon":-3.18,"lat":44.77},{"p":"c10","band":"3200","lon":-3.49,"lat":44.28},{"p":"c10","band":"3200","lon":-3.88,"lat":44.07},{"p":"c10","band":"3200","lon":-5.06,"lat":44.17},{"p":"c10","band":"3200","lon":-6.3,"lat":44.19},{"p":"c10","band":"3200","lon":-7.55,"lat":44.38},{"p":"c10","band":"3200","lon":-9.19,"lat":44.44},{"p":"c10","band":"3200","lon":-9.55,"lat":44.04},{"p":"c10","band":"3200","lon":-10.13,"lat":43.6},{"p":"c10","band":"3200","lon":-10.18,"lat":43},{"p":"c10","band":"3200","lon":-15,"lat":43},
{"p":"c11","band":"3700","lon":-15,"lat":50.56},{"p":"c11","band":"3700","lon":-14.89,"lat":50.36},{"p":"c11","band":"3700","lon":-14.03,"lat":49.73},{"p":"c11","band":"3700","lon":-13.64,"lat":49.23},{"p":"c11","band":"3700","lon":-12.94,"lat":48.21},{"p":"c11","band":"3700","lon":-12.24,"lat":47.91},{"p":"c11","band":"3700","lon":-11.53,"lat":48.25},{"p":"c11","band":"3700","lon":-11.46,"lat":47.91},{"p":"c11","band":"3700","lon":-10.83,"lat":47.96},{"p":"c11","band":"3700","lon":-10.05,"lat":47.62},{"p":"c11","band":"3700","lon":-9.11,"lat":47.72},{"p":"c11","band":"3700","lon":-8.72,"lat":47.37},{"p":"c11","band":"3700","lon":-8.18,"lat":47.27},{"p":"c11","band":"3700","lon":-7.94,"lat":47.47},{"p":"c11","band":"3700","lon":-7.09,"lat":47.13},{"p":"c11","band":"3700","lon":-6.15,"lat":46.78},{"p":"c11","band":"3700","lon":-5.6,"lat":46.2},{"p":"c11","band":"3700","lon":-4.98,"lat":45.8},{"p":"c11","band":"3700","lon":-4.2,"lat":45.17},{"p":"c11","band":"3700","lon":-3.65,"lat":44.87},{"p":"c11","band":"3700","lon":-3.34,"lat":44.38},{"p":"c11","band":"3700","lon":-3.96,"lat":44.33},{"p":"c11","band":"3700","lon":-4.74,"lat":44.28},{"p":"c11","band":"3700","lon":-6.3,"lat":44.23},{"p":"c11","band":"3700","lon":-7.55,"lat":44.42},{"p":"c11","band":"3700","lon":-9.27,"lat":44.48},{"p":"c11","band":"3700","lon":-9.66,"lat":44.04},{"p":"c11","band":"3700","lon":-10.28,"lat":43.6},{"p":"c11","band":"3700","lon":-10.44,"lat":43.4},{"p":"c11","band":"3700","lon":-10.5,"lat":43},{"p":"c11","band":"3700","lon":-15,"lat":43},
{"p":"c12","band":"4200","lon":-15,"lat":50.17},{"p":"c12","band":"4200","lon":-14.42,"lat":49.97},{"p":"c12","band":"4200","lon":-13.64,"lat":49.19},{"p":"c12","band":"4200","lon":-12.94,"lat":48.11},{"p":"c12","band":"4200","lon":-12.24,"lat":47.76},{"p":"c12","band":"4200","lon":-11.46,"lat":47.86},{"p":"c12","band":"4200","lon":-10.52,"lat":47.62},{"p":"c12","band":"4200","lon":-9.11,"lat":47.47},{"p":"c12","band":"4200","lon":-8.18,"lat":47.23},{"p":"c12","band":"4200","lon":-7.94,"lat":47.37},{"p":"c12","band":"4200","lon":-7.24,"lat":47.03},{"p":"c12","band":"4200","lon":-6.3,"lat":46.69},{"p":"c12","band":"4200","lon":-5.76,"lat":46.05},{"p":"c12","band":"4200","lon":-5.13,"lat":45.71},{"p":"c12","band":"4200","lon":-4.35,"lat":45.07},{"p":"c12","band":"4200","lon":-3.88,"lat":44.77},{"p":"c12","band":"4200","lon":-3.96,"lat":44.48},{"p":"c12","band":"4200","lon":-4.74,"lat":44.38},{"p":"c12","band":"4200","lon":-6.3,"lat":44.33},{"p":"c12","band":"4200","lon":-7.55,"lat":44.48},{"p":"c12","band":"4200","lon":-9.27,"lat":44.53},{"p":"c12","band":"4200","lon":-9.82,"lat":43.94},{"p":"c12","band":"4200","lon":-10.52,"lat":43.7},{"p":"c12","band":"4200","lon":-11.3,"lat":43.4},{"p":"c12","band":"4200","lon":-12.39,"lat":43.2},{"p":"c12","band":"4200","lon":-12.63,"lat":43},{"p":"c12","band":"4200","lon":-15,"lat":43},
{"p":"c13","band":"4700","lon":-15,"lat":48.7},{"p":"c13","band":"4700","lon":-14.66,"lat":48.6},{"p":"c13","band":"4700","lon":-14.66,"lat":47.81},{"p":"c13","band":"4700","lon":-14.27,"lat":47.72},{"p":"c13","band":"4700","lon":-13.33,"lat":47.52},{"p":"c13","band":"4700","lon":-13.49,"lat":47.13},{"p":"c13","band":"4700","lon":-13.64,"lat":46.54},{"p":"c13","band":"4700","lon":-12.86,"lat":46.59},{"p":"c13","band":"4700","lon":-12.47,"lat":46.93},{"p":"c13","band":"4700","lon":-12.55,"lat":47.27},{"p":"c13","band":"4700","lon":-12,"lat":47.57},{"p":"c13","band":"4700","lon":-11.3,"lat":47.62},{"p":"c13","band":"4700","lon":-10.36,"lat":47.32},{"p":"c13","band":"4700","lon":-9.11,"lat":47.23},{"p":"c13","band":"4700","lon":-8.33,"lat":46.98},{"p":"c13","band":"4700","lon":-8.65,"lat":46.73},{"p":"c13","band":"4700","lon":-8.02,"lat":46.54},{"p":"c13","band":"4700","lon":-6.77,"lat":46.54},{"p":"c13","band":"4700","lon":-5.99,"lat":46.29},{"p":"c13","band":"4700","lon":-5.6,"lat":45.85},{"p":"c13","band":"4700","lon":-5.91,"lat":45.51},{"p":"c13","band":"4700","lon":-4.9,"lat":45.02},{"p":"c13","band":"4700","lon":-5.37,"lat":44.67},{"p":"c13","band":"4700","lon":-6.3,"lat":44.36},{"p":"c13","band":"4700","lon":-7.55,"lat":44.53},{"p":"c13","band":"4700","lon":-9.27,"lat":44.56},{"p":"c13","band":"4700","lon":-9.82,"lat":43.99},{"p":"c13","band":"4700","lon":-10.52,"lat":43.79},{"p":"c13","band":"4700","lon":-10.99,"lat":43.5},{"p":"c13","band":"4700","lon":-12.39,"lat":43.22},{"p":"c13","band":"4700","lon":-12.71,"lat":43},{"p":"c13","band":"4700","lon":-15,"lat":43},{"p":"c13","band":"4700","lon":-15,"lat":44.77},{"p":"c13","band":"4700","lon":-14.27,"lat":45.26},{"p":"c13","band":"4700","lon":-14.34,"lat":46.05},{"p":"c13","band":"4700","lon":-14.66,"lat":46.44},{"p":"c13","band":"4700","lon":-15,"lat":46.34},
{"p":"r1","band":"4200","lon":-12.78,"lat":46.88},{"p":"r1","band":"4200","lon":-11.85,"lat":46.25},{"p":"r1","band":"4200","lon":-12.24,"lat":46},{"p":"r1","band":"4200","lon":-13.1,"lat":46.15},{"p":"r1","band":"4200","lon":-13.17,"lat":46.49},
{"p":"r2","band":"4200","lon":-11.38,"lat":45.36},{"p":"r2","band":"4200","lon":-10.99,"lat":45.66},{"p":"r2","band":"4200","lon":-9.27,"lat":45.56},{"p":"r2","band":"4200","lon":-9.74,"lat":45.26},{"p":"r2","band":"4200","lon":-10.83,"lat":45.17},
{"p":"r3","band":"4200","lon":-15,"lat":45.07},{"p":"r3","band":"4200","lon":-13.95,"lat":45.26},{"p":"r3","band":"4200","lon":-11.77,"lat":45.26},{"p":"r3","band":"4200","lon":-10.83,"lat":44.77},{"p":"r3","band":"4200","lon":-11.3,"lat":44.53},{"p":"r3","band":"4200","lon":-13.95,"lat":44.48},{"p":"r3","band":"4200","lon":-15,"lat":44.72},
{"p":"r4","band":"4200","lon":-13.64,"lat":45.56},{"p":"r4","band":"4200","lon":-13.33,"lat":45.71},{"p":"r4","band":"4200","lon":-13.1,"lat":45.51},{"p":"r4","band":"4200","lon":-13.41,"lat":45.34},
{"p":"r5","band":"4200","lon":-10.68,"lat":44.87},{"p":"r5","band":"4200","lon":-10.29,"lat":45.02},{"p":"r5","band":"4200","lon":-9.97,"lat":44.82},{"p":"r5","band":"4200","lon":-10.44,"lat":44.72},
{"p":"r6","band":"4200","lon":-14.58,"lat":44.28},{"p":"r6","band":"4200","lon":-13.95,"lat":44.3},{"p":"r6","band":"4200","lon":-12.94,"lat":43.89},{"p":"r6","band":"4200","lon":-13.49,"lat":43.4},{"p":"r6","band":"4200","lon":-14.27,"lat":43.6},
{"p":"o1","band":"3700","lon":-12.78,"lat":46.64},{"p":"o1","band":"3700","lon":-12,"lat":46.25},{"p":"o1","band":"3700","lon":-12.31,"lat":46.18},{"p":"o1","band":"3700","lon":-12.94,"lat":46.25},
{"p":"o2","band":"3700","lon":-11.11,"lat":45.51},{"p":"o2","band":"3700","lon":-10.6,"lat":45.63},{"p":"o2","band":"3700","lon":-9.74,"lat":45.54},{"p":"o2","band":"3700","lon":-9.89,"lat":45.28},{"p":"o2","band":"3700","lon":-10.91,"lat":45.26},
{"p":"o3","band":"3700","lon":-13.95,"lat":44.92},{"p":"o3","band":"3700","lon":-13.56,"lat":45.17},{"p":"o3","band":"3700","lon":-12.08,"lat":45.22},{"p":"o3","band":"3700","lon":-11.61,"lat":44.87},{"p":"o3","band":"3700","lon":-11.93,"lat":44.58},{"p":"o3","band":"3700","lon":-13.88,"lat":44.63},
{"p":"o4","band":"3700","lon":-14.42,"lat":44.19},{"p":"o4","band":"3700","lon":-14.03,"lat":44.23},{"p":"o4","band":"3700","lon":-13.41,"lat":43.79},{"p":"o4","band":"3700","lon":-13.8,"lat":43.6},{"p":"o4","band":"3700","lon":-14.27,"lat":43.79},
{"p":"o5","band":"3700","lon":-9.04,"lat":46.74},{"p":"o5","band":"3700","lon":-8.33,"lat":47.18},{"p":"o5","band":"3700","lon":-8.02,"lat":47.44},{"p":"o5","band":"3700","lon":-7.79,"lat":47.37},{"p":"o5","band":"3700","lon":-8.1,"lat":47.08},{"p":"o5","band":"3700","lon":-8.65,"lat":46.78},
{"p":"o6","band":"3700","lon":-12.78,"lat":43},{"p":"o6","band":"3700","lon":-12.24,"lat":43.4},{"p":"o6","band":"3700","lon":-11.46,"lat":43.55},{"p":"o6","band":"3700","lon":-10.52,"lat":43.4},{"p":"o6","band":"3700","lon":-10.4,"lat":43},
{"p":"y1","band":"3200","lon":-13.56,"lat":45.12},{"p":"y1","band":"3200","lon":-12.16,"lat":45.17},{"p":"y1","band":"3200","lon":-12.16,"lat":44.97},{"p":"y1","band":"3200","lon":-13.56,"lat":44.97},
{"p":"y2","band":"3200","lon":-13.8,"lat":44.82},{"p":"y2","band":"3200","lon":-12,"lat":44.82},{"p":"y2","band":"3200","lon":-12,"lat":44.63},{"p":"y2","band":"3200","lon":-13.72,"lat":44.67},
{"p":"y3","band":"3200","lon":-10.91,"lat":45.46},{"p":"y3","band":"3200","lon":-9.97,"lat":45.54},{"p":"y3","band":"3200","lon":-9.97,"lat":45.28},{"p":"y3","band":"3200","lon":-10.91,"lat":45.29},
{"p":"y4","band":"3200","lon":-12.55,"lat":43},{"p":"y4","band":"3200","lon":-12.16,"lat":43.3},{"p":"y4","band":"3200","lon":-11.46,"lat":43.42},{"p":"y4","band":"3200","lon":-10.75,"lat":43.25},{"p":"y4","band":"3200","lon":-10.6,"lat":43},
{"p":"z1","band":"2700","lon":-10.75,"lat":45.51},{"p":"z1","band":"2700","lon":-10.13,"lat":45.54},{"p":"z1","band":"2700","lon":-10.21,"lat":45.29},{"p":"z1","band":"2700","lon":-10.75,"lat":45.31},
{"p":"z2","band":"2700","lon":-13.95,"lat":50.56},{"p":"z2","band":"2700","lon":-13.49,"lat":50.36},{"p":"z2","band":"2700","lon":-13.17,"lat":49.97},{"p":"z2","band":"2700","lon":-13.56,"lat":49.68},{"p":"z2","band":"2700","lon":-14.03,"lat":49.87},
{"p":"w1","band":"2200","lon":-13.49,"lat":50.75},{"p":"w1","band":"2200","lon":-12.63,"lat":50.85},{"p":"w1","band":"2200","lon":-12.08,"lat":50.46},{"p":"w1","band":"2200","lon":-12.39,"lat":50.07},{"p":"w1","band":"2200","lon":-13.1,"lat":49.92},{"p":"w1","band":"2200","lon":-13.41,"lat":50.17},
{"p":"w2","band":"2200","lon":-12.36,"lat":43},{"p":"w2","band":"2200","lon":-12,"lat":43.25},{"p":"w2","band":"2200","lon":-11.46,"lat":43.35},{"p":"w2","band":"2200","lon":-10.9,"lat":43.16},{"p":"w2","band":"2200","lon":-10.75,"lat":43},
{"p":"g1","band":"1200","lon":-14.77,"lat":51},{"p":"g1","band":"1200","lon":-14.42,"lat":50.61},{"p":"g1","band":"1200","lon":-13.88,"lat":50.56},{"p":"g1","band":"1200","lon":-13.41,"lat":50.87},{"p":"g1","band":"1200","lon":-13.49,"lat":51},
{"p":"g2","band":"1200","lon":-12.08,"lat":43},{"p":"g2","band":"1200","lon":-11.95,"lat":43.19},{"p":"g2","band":"1200","lon":-11.85,"lat":43},
{"p":"h1","band":"700","lon":-14.66,"lat":51},{"p":"h1","band":"700","lon":-14.42,"lat":50.73},{"p":"h1","band":"700","lon":-13.95,"lat":50.66},{"p":"h1","band":"700","lon":-13.56,"lat":50.9},{"p":"h1","band":"700","lon":-13.64,"lat":51},
{"p":"h2","band":"700","lon":-2.71,"lat":44.28},{"p":"h2","band":"700","lon":-2.24,"lat":44.38},{"p":"h2","band":"700","lon":-2.06,"lat":43.89},{"p":"h2","band":"700","lon":-2.56,"lat":43.84},
{"p":"d1","band":"5200","lon":-14.73,"lat":43},{"p":"d1","band":"5200","lon":-14.58,"lat":43.16},{"p":"d1","band":"5200","lon":-13.64,"lat":43.32},{"p":"d1","band":"5200","lon":-13.33,"lat":43.11},{"p":"d1","band":"5200","lon":-13.49,"lat":43}
]},"encoding":{"fill":{"field":"band","type":"nominal","legend":null,"scale":{"domain":["0","50","100","150","200","700","1200","1700","2200","2700","3200","3700","4200","4700","5200","land","marker"],"range":["#c000ff","#6a20ff","#3c46d8","#2568a8","#0f8070","#10a040","#40b030","#80cc20","#b8e000","#f0f000","#ffc800","#ff7a00","#ff3300","#e00000","#a00000","#ffffff","#000000"]}},"detail":{"field":"p"},"order":{"value":null}}},
{"mark":{"type":"line","stroke":"#222","strokeWidth":0.7},"data":{"values":[
{"p":"england","band":"land","lon":-4.51,"lat":51},{"p":"england","band":"land","lon":-4.66,"lat":50.66},{"p":"england","band":"land","lon":-5.13,"lat":50.36},{"p":"england","band":"land","lon":-5.68,"lat":50.17},{"p":"england","band":"land","lon":-5.21,"lat":49.97},{"p":"england","band":"land","lon":-4.74,"lat":50.27},{"p":"england","band":"land","lon":-3.81,"lat":50.22},{"p":"england","band":"land","lon":-3.42,"lat":50.56},{"p":"england","band":"land","lon":-2.4,"lat":50.51},{"p":"england","band":"land","lon":-1.46,"lat":50.75},{"p":"england","band":"land","lon":-0.76,"lat":50.8},{"p":"england","band":"land","lon":-0.06,"lat":50.75},{"p":"england","band":"land","lon":1.19,"lat":50.87},{"p":"england","band":"land","lon":1.74,"lat":51},
{"p":"france","band":"land","lon":1.94,"lat":51},{"p":"france","band":"land","lon":1.66,"lat":50.22},{"p":"france","band":"land","lon":0.57,"lat":49.43},{"p":"france","band":"land","lon":-0.06,"lat":49.28},{"p":"france","band":"land","lon":-1.15,"lat":49.38},{"p":"france","band":"land","lon":-1.23,"lat":49.68},{"p":"france","band":"land","lon":-1.7,"lat":49.68},{"p":"france","band":"land","lon":-1.54,"lat":48.65},{"p":"france","band":"land","lon":-2.56,"lat":48.55},{"p":"france","band":"land","lon":-2.95,"lat":48.84},{"p":"france","band":"land","lon":-3.65,"lat":48.79},{"p":"france","band":"land","lon":-4.66,"lat":48.55},{"p":"france","band":"land","lon":-4.82,"lat":48.25},{"p":"france","band":"land","lon":-4.27,"lat":48.35},{"p":"france","band":"land","lon":-4.2,"lat":48.21},{"p":"france","band":"land","lon":-4.59,"lat":48.01},{"p":"france","band":"land","lon":-4.2,"lat":47.81},{"p":"france","band":"land","lon":-3.49,"lat":47.72},{"p":"france","band":"land","lon":-3.03,"lat":47.52},{"p":"france","band":"land","lon":-2.4,"lat":47.37},{"p":"france","band":"land","lon":-2.01,"lat":46.83},{"p":"france","band":"land","lon":-1.54,"lat":46.34},{"p":"france","band":"land","lon":-0.97,"lat":46.05},{"p":"france","band":"land","lon":-1.07,"lat":45.61},{"p":"france","band":"land","lon":-0.53,"lat":45.02},{"p":"france","band":"land","lon":-1.15,"lat":45.02},{"p":"france","band":"land","lon":-1.23,"lat":44.72},{"p":"france","band":"land","lon":-0.97,"lat":44.67},{"p":"france","band":"land","lon":-1.38,"lat":43.6},{"p":"france","band":"land","lon":-1.85,"lat":43.35},{"p":"france","band":"land","lon":-2.87,"lat":43.4},{"p":"france","band":"land","lon":-3.96,"lat":43.55},{"p":"france","band":"land","lon":-5.83,"lat":43.6},{"p":"france","band":"land","lon":-6.93,"lat":43.6},{"p":"france","band":"land","lon":-7.87,"lat":43.75},{"p":"france","band":"land","lon":-8.33,"lat":43.4},{"p":"france","band":"land","lon":-9.27,"lat":43},{"p":"france","band":"land","lon":2,"lat":43},{"p":"france","band":"land","lon":2,"lat":51}
]},"encoding":{"fill":{"field":"band","type":"nominal","legend":null,"scale":{"domain":["0","50","100","150","200","700","1200","1700","2200","2700","3200","3700","4200","4700","5200","land","marker"],"range":["#c000ff","#6a20ff","#3c46d8","#2568a8","#0f8070","#10a040","#40b030","#80cc20","#b8e000","#f0f000","#ffc800","#ff7a00","#ff3300","#e00000","#a00000","#ffffff","#000000"]}},"detail":{"field":"p"},"order":{"value":null}}},
{"mark":{"type":"rule","stroke":"#888","strokeWidth":1},"data":{"values":[{"lon":-14,"lon2":-14,"lat":51,"lat2":51.17},{"lon":-12,"lon2":-12,"lat":51,"lat2":51.17},{"lon":-10,"lon2":-10,"lat":51,"lat2":51.17},{"lon":-8,"lon2":-8,"lat":51,"lat2":51.17},{"lon":-6,"lon2":-6,"lat":51,"lat2":51.17},{"lon":-4,"lon2":-4,"lat":51,"lat2":51.17},{"lon":-2,"lon2":-2,"lat":51,"lat2":51.17},{"lon":0,"lon2":0,"lat":51,"lat2":51.17},{"lon":-14,"lon2":-14,"lat":43,"lat2":42.83},{"lon":-12,"lon2":-12,"lat":43,"lat2":42.83},{"lon":-10,"lon2":-10,"lat":43,"lat2":42.83},{"lon":-8,"lon2":-8,"lat":43,"lat2":42.83},{"lon":-6,"lon2":-6,"lat":43,"lat2":42.83},{"lon":-4,"lon2":-4,"lat":43,"lat2":42.83},{"lon":-2,"lon2":-2,"lat":43,"lat2":42.83},{"lon":0,"lon2":0,"lat":43,"lat2":42.83},{"lon":-15,"lon2":-15.28,"lat":50,"lat2":50},{"lon":-15,"lon2":-15.28,"lat":49,"lat2":49},{"lon":-15,"lon2":-15.28,"lat":48,"lat2":48},{"lon":-15,"lon2":-15.28,"lat":47,"lat2":47},{"lon":-15,"lon2":-15.28,"lat":46,"lat2":46},{"lon":-15,"lon2":-15.28,"lat":45,"lat2":45},{"lon":-15,"lon2":-15.28,"lat":44,"lat2":44},{"lon":-15,"lon2":-15.28,"lat":43,"lat2":43},{"lon":2,"lon2":2.28,"lat":50,"lat2":50},{"lon":2,"lon2":2.28,"lat":49,"lat2":49},{"lon":2,"lon2":2.28,"lat":48,"lat2":48},{"lon":2,"lon2":2.28,"lat":47,"lat2":47},{"lon":2,"lon2":2.28,"lat":46,"lat2":46},{"lon":2,"lon2":2.28,"lat":45,"lat2":45},{"lon":2,"lon2":2.28,"lat":44,"lat2":44},{"lon":2,"lon2":2.28,"lat":43,"lat2":43}]},"encoding":{"x2":{"field":"lon2"},"y2":{"field":"lat2"}}},
{"mark":{"type":"rect","fill":null,"stroke":"#999","strokeWidth":1.4},"data":{"values":[{"lon":-15,"lon2":2,"lat":43,"lat2":51}]},"encoding":{"x2":{"field":"lon2"},"y2":{"field":"lat2"}}},
{"mark":{"type":"rect","stroke":"#333","strokeWidth":0.4},"data":{"values":[{"band":"5200","lon":2.47,"lon2":3.03,"lat":51,"lat2":50.467},{"band":"4700","lon":2.47,"lon2":3.03,"lat":50.467,"lat2":49.933},{"band":"4200","lon":2.47,"lon2":3.03,"lat":49.933,"lat2":49.4},{"band":"3700","lon":2.47,"lon2":3.03,"lat":49.4,"lat2":48.867},{"band":"3200","lon":2.47,"lon2":3.03,"lat":48.867,"lat2":48.333},{"band":"2700","lon":2.47,"lon2":3.03,"lat":48.333,"lat2":47.8},{"band":"2200","lon":2.47,"lon2":3.03,"lat":47.8,"lat2":47.267},{"band":"1700","lon":2.47,"lon2":3.03,"lat":47.267,"lat2":46.733},{"band":"1200","lon":2.47,"lon2":3.03,"lat":46.733,"lat2":46.2},{"band":"700","lon":2.47,"lon2":3.03,"lat":46.2,"lat2":45.667},{"band":"200","lon":2.47,"lon2":3.03,"lat":45.667,"lat2":45.133},{"band":"150","lon":2.47,"lon2":3.03,"lat":45.133,"lat2":44.6},{"band":"100","lon":2.47,"lon2":3.03,"lat":44.6,"lat2":44.067},{"band":"50","lon":2.47,"lon2":3.03,"lat":44.067,"lat2":43.533},{"band":"0","lon":2.47,"lon2":3.03,"lat":43.533,"lat2":43}]},"encoding":{"x2":{"field":"lon2"},"y2":{"field":"lat2"},"fill":{"field":"band","type":"nominal","legend":null,"scale":{"domain":["0","50","100","150","200","700","1200","1700","2200","2700","3200","3700","4200","4700","5200","land","marker"],"range":["#c000ff","#6a20ff","#3c46d8","#2568a8","#0f8070","#10a040","#40b030","#80cc20","#b8e000","#f0f000","#ffc800","#ff7a00","#ff3300","#e00000","#a00000","#ffffff","#000000"]}}}},
{"mark":{"type":"text","font":"DejaVu Sans","fontSize":7,"align":"right","baseline":"middle","fill":"#444"},"data":{"values":[{"lon":3.97,"lat":51,"label":"5700"},{"lon":3.97,"lat":50.467,"label":"5200"},{"lon":3.97,"lat":49.933,"label":"4700"},{"lon":3.97,"lat":49.4,"label":"4200"},{"lon":3.97,"lat":48.867,"label":"3700"},{"lon":3.97,"lat":48.333,"label":"3200"},{"lon":3.97,"lat":47.8,"label":"2700"},{"lon":3.97,"lat":47.267,"label":"2200"},{"lon":3.97,"lat":46.733,"label":"1700"},{"lon":3.97,"lat":46.2,"label":"1200"},{"lon":3.97,"lat":45.667,"label":"700"},{"lon":3.97,"lat":45.133,"label":"200"},{"lon":3.97,"lat":44.6,"label":"150"},{"lon":3.97,"lat":44.067,"label":"100"},{"lon":3.97,"lat":43.533,"label":"50"}]},"encoding":{"text":{"field":"label"}}},
{"mark":{"type":"text","font":"DejaVu Sans","fontSize":6.5,"align":"right","baseline":"middle","fill":"#444"},"data":{"values":[{"lon":-15.42,"lat":49,"label":"49.0°N"},{"lon":-15.42,"lat":47,"label":"47.0°N"},{"lon":-15.42,"lat":45,"label":"45.0°N"},{"lon":-15.42,"lat":43,"label":"43.0°N"}]},"encoding":{"text":{"field":"label"}}},
{"mark":{"type":"text","font":"DejaVu Sans","fontSize":6.5,"align":"center","baseline":"middle","fill":"#444"},"data":{"values":[{"lon":-14,"lat":42.65,"label":"14°W"},{"lon":-10,"lat":42.65,"label":"10°W"},{"lon":-6,"lat":42.65,"label":"6°W"},{"lon":-2,"lat":42.65,"label":"2°W"}]},"encoding":{"text":{"field":"label"}}},
{"mark":{"type":"text","font":"DejaVu Sans","fontSize":7,"align":"center","baseline":"middle","fill":"#444"},"data":{"values":[{"lon":-6.52,"lat":42.32,"label":"LONGITUDE"}]},"encoding":{"text":{"field":"label"}}},
{"mark":{"type":"text","font":"DejaVu Sans","fontSize":7,"align":"center","baseline":"middle","angle":270,"fill":"#444"},"data":{"values":[{"lon":-16.83,"lat":47,"label":"LATITUDE"}]},"encoding":{"text":{"field":"label"}}},
{"mark":{"type":"line","stroke":null},"data":{"values":[
{"p":"cross","band":"marker","lon":-2.56,"lat":49.63},{"p":"cross","band":"marker","lon":-1.83,"lat":49.63},{"p":"cross","band":"marker","lon":-1.83,"lat":48.45},{"p":"cross","band":"marker","lon":-2.14,"lat":48.45},{"p":"cross","band":"marker","lon":-2.14,"lat":43.14},{"p":"cross","band":"marker","lon":-1.69,"lat":43.14},{"p":"cross","band":"marker","lon":-2.2,"lat":42.47},{"p":"cross","band":"marker","lon":-2.72,"lat":43.14},{"p":"cross","band":"marker","lon":-2.49,"lat":43.14},{"p":"cross","band":"marker","lon":-2.49,"lat":48.45},{"p":"cross","band":"marker","lon":-2.56,"lat":48.45},
{"p":"bar","band":"marker","lon":-3.18,"lat":49.17},{"p":"bar","band":"marker","lon":-1.03,"lat":49.17},{"p":"bar","band":"marker","lon":-1.03,"lat":48.89},{"p":"bar","band":"marker","lon":-3.18,"lat":48.89}
]},"encoding":{"fill":{"field":"band","type":"nominal","legend":null,"scale":{"domain":["0","50","100","150","200","700","1200","1700","2200","2700","3200","3700","4200","4700","5200","land","marker"],"range":["#c000ff","#6a20ff","#3c46d8","#2568a8","#0f8070","#10a040","#40b030","#80cc20","#b8e000","#f0f000","#ffc800","#ff7a00","#ff3300","#e00000","#a00000","#ffffff","#000000"]}},"detail":{"field":"p"},"order":{"value":null}}}
],
"encoding":{"x":{"field":"lon","type":"quantitative","scale":{"domain":[-37.155,2.656],"nice":false,"zero":false},"axis":null},"y":{"field":"lat","type":"quantitative","scale":{"domain":[31.647,50.5],"nice":false,"zero":false},"axis":null}},
"resolve":{"scale":{"fill":"shared"}}}],
"resolve":{"scale":{"x":"independent","y":"independent"}}}
